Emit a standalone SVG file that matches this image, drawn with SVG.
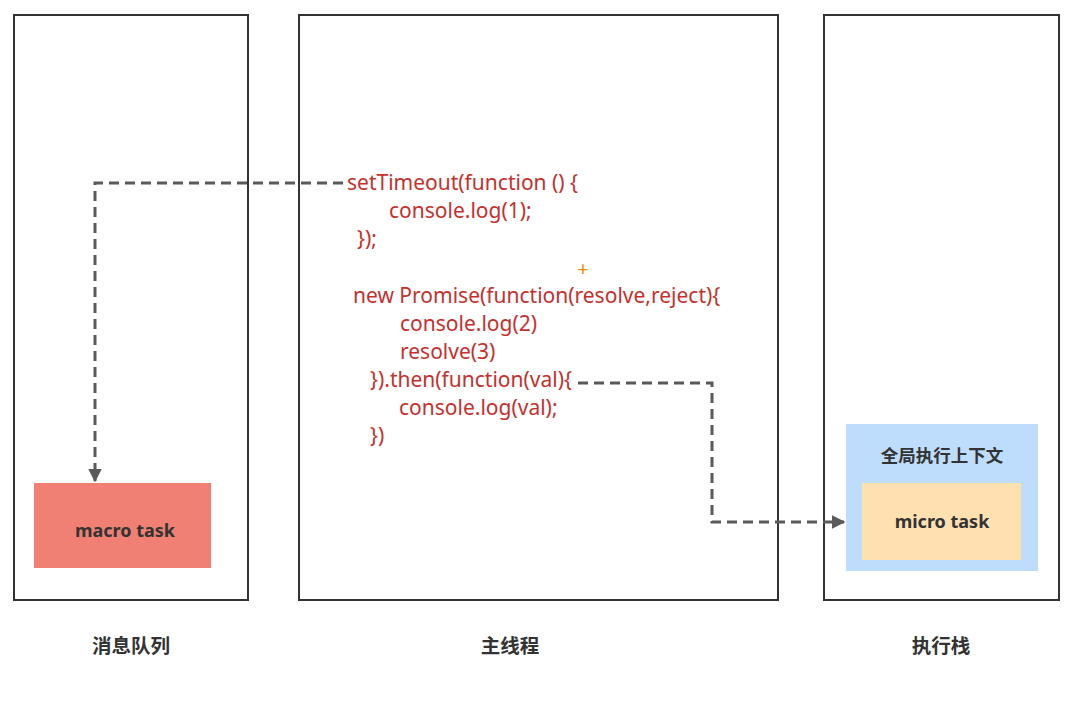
<svg xmlns="http://www.w3.org/2000/svg" width="1069" height="701" viewBox="0 0 1069 701">
<style>
.frame{fill:#fff;stroke:#333;stroke-width:2}
.code{font-family:"Noto Sans","Open Sans",sans-serif;font-size:21px;fill:#C8302C}
.lbl{font-family:"Noto Sans CJK SC","Noto Sans",sans-serif;font-size:19.5px;font-weight:bold;fill:#333;text-anchor:middle}
.task{font-family:"Noto Sans","Noto Sans CJK SC",sans-serif;font-size:18px;font-weight:bold;fill:#333;text-anchor:middle}
.conn{fill:none;stroke:#5a5a5a;stroke-width:3;stroke-dasharray:10,6}
</style>
<defs>
<marker id="arr" viewBox="0 0 10 10" refX="9" refY="5" markerWidth="4.5" markerHeight="4.5" orient="auto" markerUnits="strokeWidth">
<path d="M0,0 L10,5 L0,10 z" fill="#5a5a5a"/>
</marker>
</defs>
<rect width="1069" height="701" fill="#fff"/>
<g id="queue"><rect class="frame" x="14" y="15" width="234" height="585"/></g>
<g id="mainthread"><rect class="frame" x="299" y="15" width="479" height="585"/></g>
<g id="stack"><rect class="frame" x="824" y="15" width="235" height="585"/></g>
<g id="macro"><rect x="34" y="483" width="177" height="85" fill="#F08074"/><text class="task" x="125" y="537">macro task</text></g>
<g id="global"><rect x="846" y="424" width="192" height="147" fill="#BEDCFB"/><text class="lbl" x="942" y="462" style="font-size:17.5px">全局执行上下文</text></g>
<g id="micro"><rect x="862" y="483" width="159" height="77" fill="#FFE0B0"/><text class="task" x="942" y="528">micro task</text></g>
<g id="code">
<text class="code" x="347" y="190">setTimeout(function () {</text>
<text class="code" x="389" y="218">console.log(1);</text>
<text class="code" x="357" y="246">});</text>
<text x="583" y="276" font-family="Noto Sans,sans-serif" font-size="20" fill="#F08A00" text-anchor="middle">+</text>
<text class="code" x="353" y="303">new Promise(function(resolve,reject){</text>
<text class="code" x="400" y="331">console.log(2)</text>
<text class="code" x="400" y="359">resolve(3)</text>
<text class="code" x="370" y="387">}).then(function(val){</text>
<text class="code" x="399" y="415">console.log(val);</text>
<text class="code" x="370" y="443">})</text>
</g>
<g id="connectors">
<path class="conn" d="M343,183 H95 V481" marker-end="url(#arr)"/>
<path class="conn" d="M578,383 H712 V522 H844" marker-end="url(#arr)"/>
</g>
<g id="labels">
<text class="lbl" x="131" y="653">消息队列</text>
<text class="lbl" x="510" y="653">主线程</text>
<text class="lbl" x="941" y="653">执行栈</text>
</g>
</svg>
